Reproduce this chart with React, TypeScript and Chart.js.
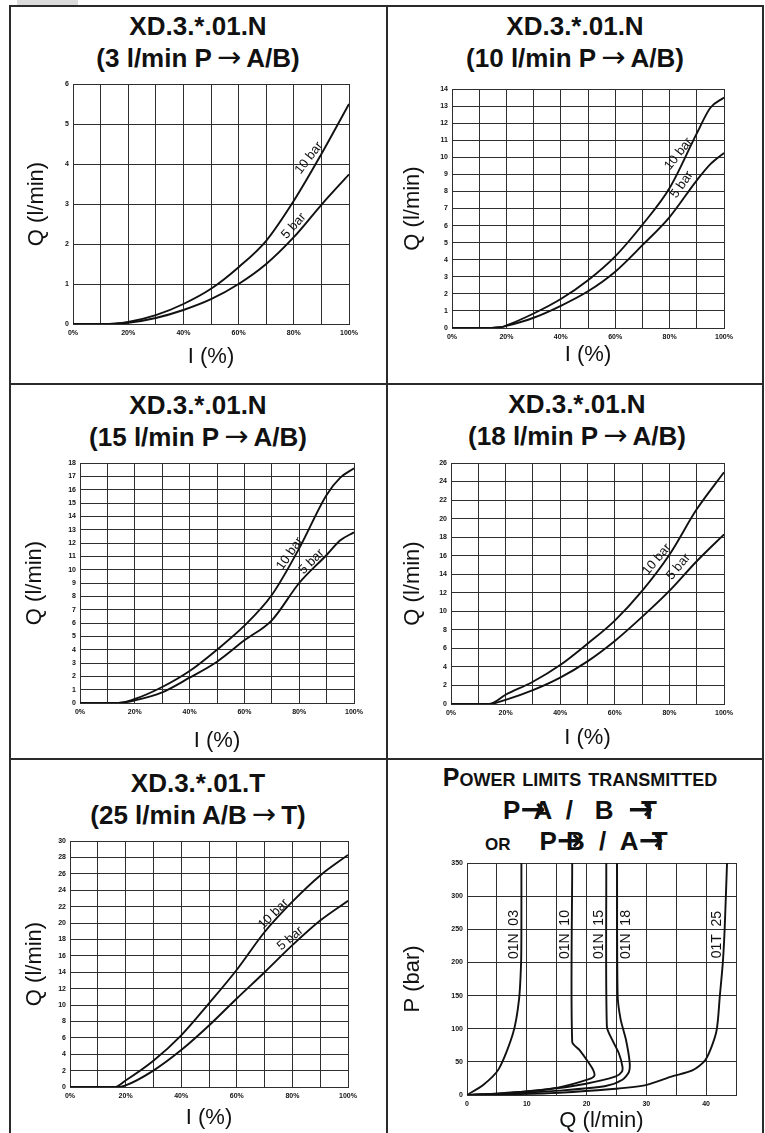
import React, { useEffect, useRef } from "react";
import { Chart, registerables } from "chart.js";
Chart.register(...registerables);

const FONT = "'Liberation Sans', Arial, Helvetica, sans-serif";
const ARROW_FONT = "'DejaVu Sans', sans-serif";

// ---------- Panel 1: XD.3.*.01.N (3 l/min P -> A/B) ----------
const I_03 = [0, 10, 15, 20, 30, 40, 50, 60, 70, 80, 90, 100];
const Q_03_10bar = [0, 0, 0.01, 0.05, 0.22, 0.5, 0.88, 1.42, 2.08, 3.08, 4.25, 5.5];
const Q_03_5bar = [0, 0, 0.01, 0.03, 0.15, 0.35, 0.62, 1.0, 1.5, 2.17, 2.98, 3.74];

// ---------- Panel 2: 10 l/min ----------
const I_10 = [0, 10, 18, 20, 30, 40, 50, 60, 70, 80, 90, 95, 100];
const Q_10_10bar = [0, 0, 0.05, 0.15, 0.85, 1.7, 2.8, 4.2, 6.05, 8.2, 11.4, 12.9, 13.5];
const Q_10_5bar = [0, 0, 0.05, 0.12, 0.6, 1.3, 2.15, 3.3, 4.85, 6.5, 8.65, 9.6, 10.25];

// ---------- Panel 3: 15 l/min ----------
const I_15 = [0, 10, 14, 20, 30, 40, 50, 60, 70, 80, 90, 95, 100];
const Q_15_10bar = [0, 0, 0, 0.3, 1.2, 2.4, 4.0, 5.8, 8.1, 11.6, 15.6, 16.9, 17.6];
const Q_15_5bar = [0, 0, 0, 0.2, 0.8, 1.9, 3.1, 4.7, 6.2, 9.0, 11.1, 12.2, 12.8];

// ---------- Panel 4: 18 l/min ----------
const I_18 = [0, 10, 14, 20, 30, 40, 50, 60, 70, 80, 90, 100];
const Q_18_10bar = [0, 0, 0, 1.0, 2.4, 4.2, 6.5, 9.0, 12.2, 16.1, 21.0, 25.0];
const Q_18_5bar = [0, 0, 0, 0.45, 1.5, 2.85, 4.6, 6.8, 9.4, 12.2, 15.4, 18.3];

// ---------- Panel 5: XD.3.*.01.T 25 l/min A/B -> T ----------
const I_25_10bar = [0, 10, 16, 20, 30, 40, 50, 60, 70, 80, 90, 100];
const Q_25_10bar = [0, 0, 0, 0.8, 3.2, 6.3, 10.2, 14.3, 18.9, 22.6, 25.8, 28.3];
const I_25_5bar = [0, 10, 17, 20, 30, 40, 50, 60, 70, 80, 90, 100];
const Q_25_5bar = [0, 0, 0, 0.2, 2.0, 4.5, 7.5, 10.8, 14.0, 17.3, 20.3, 22.7];

// ---------- Panel 6: power limits (Q l/min vs P bar) ----------
const Q_01N03 = [0, 2.7, 5.3, 7.7, 8.7, 9.05, 9.1, 9.1];
const P_01N03 = [0, 15, 39, 93, 144, 200, 250, 350];
const Q_01N10 = [0, 4.3, 9.9, 15.4, 20.4, 21.3, 21.1, 20.1, 18.8, 17.6, 17.6];
const P_01N10 = [0, 1.5, 5.5, 11.6, 24, 29, 38, 52, 68, 80, 350];
const Q_01N15 = [0, 5.4, 12.7, 19.9, 24.9, 25.9, 26.0, 25.4, 24.3, 23.4, 23.3];
const P_01N15 = [0, 2.5, 7.6, 17, 28, 35, 43, 63, 83, 103, 350];
const Q_01N18 = [0, 7.1, 15.4, 23.2, 26.0, 27.1, 27.2, 26.6, 25.7, 25.2, 25.1];
const P_01N18 = [0, 2, 6.6, 13.6, 23, 35, 50, 83, 114, 150, 350];
const Q_01T25 = [0, 7.1, 15.4, 23.8, 29.9, 34.3, 37.7, 39.9, 41.7, 42.3, 42.8, 43.1, 43.5];
const P_01T25 = [0, 1, 3.5, 8.6, 15, 28, 37, 53, 95, 150, 200, 250, 350];

type Series = { xs: number[]; ys: number[] };
type CurveLabel = { text: string; x: number; y: number; angle: number; size: number };
type PanelProps = {
  cell: number[];
  plot: number[];
  yTitleX: number;
  xTitleY: number;
  series: Series[];
  xMax: number;
  xStep: number;
  xLabelEvery: number;
  xSuffix: string;
  yMax: number;
  yStep: number;
  xTitle: string;
  yTitle: string;
  labels: CurveLabel[];
  monotone: boolean;
};

function Panel(p: PanelProps) {
  const ref = useRef<HTMLCanvasElement>(null);
  const [cx, cy, cw, ch] = p.cell;
  useEffect(() => {
    const [pl, pt, pr, pb] = p.plot;
    const half = 11;
    const padLeft = p.yTitleX - cx - half;
    const wy = pl - cx - padLeft;
    const scaleBottom = p.xTitleY - cy + half;
    const padBottom = ch - scaleBottom;
    const hx = scaleBottom - (pb - cy);
    const padTop = pt - cy;
    const padRight = cx + cw - pr;

    const labelPlugin = {
      id: "curveLabels",
      afterDatasetsDraw(chart: any) {
        const ctx = chart.ctx;
        const xs = chart.scales.x;
        const ys = chart.scales.y;
        for (const l of p.labels) {
          ctx.save();
          ctx.translate(xs.getPixelForValue(l.x), ys.getPixelForValue(l.y));
          ctx.rotate((l.angle * Math.PI) / 180);
          ctx.font = `${l.size}px ${FONT}`;
          ctx.fillStyle = "#111";
          ctx.textAlign = "center";
          ctx.textBaseline = "middle";
          ctx.fillText(l.text, 0, 0);
          ctx.restore();
        }
      },
    };

    const gridColor = "#2e2e2e";
    const tickFont = { family: FONT, size: 7, weight: "bold" as const };
    const titleFont = { family: FONT, size: 22, lineHeight: 1 };

    const chart = new Chart(ref.current as HTMLCanvasElement, {
      type: "scatter",
      data: {
        datasets: p.series.map((s) => ({
          data: s.xs.map((x, i) => ({ x, y: s.ys[i] })),
          showLine: true,
          borderColor: "#111",
          borderWidth: 1.9,
          pointRadius: 0,
          tension: p.monotone ? 0 : 0.25,
          cubicInterpolationMode: p.monotone ? "monotone" : "default",
          fill: false,
        })),
      },
      options: {
        animation: false,
        responsive: false,
        maintainAspectRatio: false,
        layout: { padding: { left: padLeft, right: padRight, top: padTop, bottom: padBottom } },
        plugins: { legend: { display: false }, tooltip: { enabled: false }, title: { display: false } },
        scales: {
          x: {
            type: "linear",
            min: 0,
            max: p.xMax,
            afterFit: (s: any) => {
              s.height = hx;
            },
            ticks: {
              stepSize: p.xStep,
              autoSkip: false,
              maxRotation: 0,
              padding: 5,
              color: "#111",
              font: tickFont,
              callback: (v: any) =>
                Math.round(Number(v)) % p.xLabelEvery === 0 ? `${v}${p.xSuffix}` : "",
            },
            grid: { color: gridColor, lineWidth: 1, drawTicks: false },
            border: { color: gridColor, width: 1 },
            title: { display: true, text: p.xTitle, font: titleFont, padding: 0, color: "#111" },
          },
          y: {
            type: "linear",
            min: 0,
            max: p.yMax,
            afterFit: (s: any) => {
              s.width = wy;
            },
            ticks: {
              stepSize: p.yStep,
              autoSkip: false,
              padding: 4,
              color: "#111",
              font: tickFont,
            },
            grid: { color: gridColor, lineWidth: 1, drawTicks: false },
            border: { color: gridColor, width: 1 },
            title: { display: true, text: p.yTitle, font: titleFont, padding: 0, color: "#111" },
          },
        },
      } as any,
      plugins: [labelPlugin],
    });
    return () => chart.destroy();
  }, []);
  return (
    <canvas
      ref={ref}
      width={cw}
      height={ch}
      style={{ position: "absolute", left: cx, top: cy, width: cw, height: ch }}
    />
  );
}

const thinArrow = (
  <span style={{ fontFamily: ARROW_FONT, fontWeight: "normal", fontSize: 29, margin: "0 5px" }}>
    {"\u2192"}
  </span>
);

const boldArrow = (overlap: number) => (
  <span
    style={{
      fontFamily: ARROW_FONT,
      fontWeight: "bold",
      fontSize: 30,
      marginRight: -overlap,
      position: "relative",
      zIndex: 1,
    }}
  >
    {"\u2192"}
  </span>
);

const title2 = (center: number, top: number, l1: string, l2a: string, l2b: string) => (
  <div
    style={{
      position: "absolute",
      left: center - 190,
      width: 380,
      top,
      textAlign: "center",
      font: `bold 26px/31px ${FONT}`,
      color: "#111",
      whiteSpace: "pre",
    }}
  >
    {l1}
    <br />
    {l2a}
    {thinArrow}
    {l2b}
  </div>
);

const line = (left: number, top: number, width: number, height: number, bg = "#2a2a2a") => (
  <div style={{ position: "absolute", left, top, width, height, background: bg }} />
);

const COL0 = 11, COL0W = 375, COL1 = 388, COL1W = 374;
const ROW0 = 7, ROW0H = 376, ROW1 = 385, ROW1H = 373, ROW2 = 760, ROW2H = 373;

export default function App() {
  const xTitleI = "I (%)";
  const yTitleQ = "Q (l/min)";
  return (
    <div
      style={{
        position: "absolute",
        left: 0,
        top: 0,
        width: 765,
        height: 1133,
        background: "#fff",
        overflow: "hidden",
        fontFamily: FONT,
      }}
    >
      {line(17, 0, 61, 5, "#dcdcdc")}
      {line(9, 5, 755, 2)}
      {line(9, 5, 2, 1128)}
      {line(386, 5, 2, 1128)}
      {line(762, 5, 2, 1128)}
      {line(9, 383, 755, 2)}
      {line(9, 758, 755, 2)}

      {title2(198, 11, "XD.3.*.01.N", "(3 l/min P", "A/B)")}
      {title2(575, 11, "XD.3.*.01.N", "(10 l/min P", "A/B)")}
      {title2(198, 390, "XD.3.*.01.N", "(15 l/min P", "A/B)")}
      {title2(577, 389, "XD.3.*.01.N", "(18 l/min P", "A/B)")}
      {title2(198, 768, "XD.3.*.01.T", "(25 l/min A/B", "T)")}

      <div
        style={{
          position: "absolute",
          left: 380,
          width: 400,
          top: 762,
          textAlign: "center",
          font: `bold 25px/30px ${FONT}`,
          fontVariant: "small-caps",
          color: "#111",
        }}
      >
        Power limits transmitted
      </div>
      <div
        style={{
          position: "absolute",
          left: 503,
          top: 794,
          font: `bold 26px/30px ${FONT}`,
          color: "#111",
          whiteSpace: "pre",
        }}
      >
        {"P"}
        {boldArrow(12)}
        {"A  /   B  "}
        {boldArrow(12)}
        {"T"}
      </div>
      <div
        style={{
          position: "absolute",
          left: 485,
          top: 825,
          font: `bold 26px/30px ${FONT}`,
          color: "#111",
          whiteSpace: "pre",
        }}
      >
        <span style={{ fontVariant: "small-caps", fontSize: 24 }}>or</span>
        {"    P"}
        {boldArrow(16)}
        {"B  /  A"}
        {boldArrow(12)}
        {"T"}
      </div>

      <Panel
        cell={[COL0, ROW0, COL0W, ROW0H]}
        plot={[73, 84, 349, 324]}
        yTitleX={37}
        xTitleY={357}
        series={[
          { xs: I_03, ys: Q_03_10bar },
          { xs: I_03, ys: Q_03_5bar },
        ]}
        xMax={100}
        xStep={10}
        xLabelEvery={20}
        xSuffix="%"
        yMax={6}
        yStep={1}
        xTitle={xTitleI}
        yTitle={yTitleQ}
        labels={[
          { text: "10 bar", x: 85.5, y: 4.15, angle: -52, size: 13 },
          { text: "5 bar", x: 80, y: 2.45, angle: -48, size: 13 },
        ]}
        monotone={true}
      />
      <Panel
        cell={[COL1, ROW0, COL1W, ROW0H]}
        plot={[452, 89, 724, 328]}
        yTitleX={413}
        xTitleY={355}
        series={[
          { xs: I_10, ys: Q_10_10bar },
          { xs: I_10, ys: Q_10_5bar },
        ]}
        xMax={100}
        xStep={10}
        xLabelEvery={20}
        xSuffix="%"
        yMax={14}
        yStep={1}
        xTitle={xTitleI}
        yTitle={yTitleQ}
        labels={[
          { text: "10 bar", x: 83.3, y: 10.2, angle: -52, size: 13 },
          { text: "5 bar", x: 84.5, y: 8.4, angle: -55, size: 13 },
        ]}
        monotone={true}
      />
      <Panel
        cell={[COL0, ROW1, COL0W, ROW1H]}
        plot={[80, 463, 354, 703]}
        yTitleX={35}
        xTitleY={741}
        series={[
          { xs: I_15, ys: Q_15_10bar },
          { xs: I_15, ys: Q_15_5bar },
        ]}
        xMax={100}
        xStep={10}
        xLabelEvery={20}
        xSuffix="%"
        yMax={18}
        yStep={1}
        xTitle={xTitleI}
        yTitle={yTitleQ}
        labels={[
          { text: "10 bar", x: 76.6, y: 11.2, angle: -55, size: 13 },
          { text: "5 bar", x: 84.5, y: 10.6, angle: -45, size: 13 },
        ]}
        monotone={true}
      />
      <Panel
        cell={[COL1, ROW1, COL1W, ROW1H]}
        plot={[451, 463, 724, 704]}
        yTitleX={413}
        xTitleY={738}
        series={[
          { xs: I_18, ys: Q_18_10bar },
          { xs: I_18, ys: Q_18_5bar },
        ]}
        xMax={100}
        xStep={10}
        xLabelEvery={20}
        xSuffix="%"
        yMax={26}
        yStep={2}
        xTitle={xTitleI}
        yTitle={yTitleQ}
        labels={[
          { text: "10 bar", x: 75.4, y: 15.6, angle: -50, size: 13 },
          { text: "5 bar", x: 83.3, y: 14.8, angle: -50, size: 13 },
        ]}
        monotone={true}
      />
      <Panel
        cell={[COL0, ROW2, COL0W, ROW2H]}
        plot={[70, 841, 348, 1087]}
        yTitleX={35}
        xTitleY={1118}
        series={[
          { xs: I_25_10bar, ys: Q_25_10bar },
          { xs: I_25_5bar, ys: Q_25_5bar },
        ]}
        xMax={100}
        xStep={10}
        xLabelEvery={20}
        xSuffix="%"
        yMax={30}
        yStep={2}
        xTitle={xTitleI}
        yTitle={yTitleQ}
        labels={[
          { text: "10 bar", x: 73.2, y: 21.1, angle: -45, size: 13 },
          { text: "5 bar", x: 79.2, y: 18.1, angle: -40, size: 13 },
        ]}
        monotone={true}
      />
      <Panel
        cell={[COL1, ROW2, COL1W, ROW2H]}
        plot={[467, 863, 736, 1095]}
        yTitleX={413}
        xTitleY={1121}
        series={[
          { xs: Q_01N03, ys: P_01N03 },
          { xs: Q_01N10, ys: P_01N10 },
          { xs: Q_01N15, ys: P_01N15 },
          { xs: Q_01N18, ys: P_01N18 },
          { xs: Q_01T25, ys: P_01T25 },
        ]}
        xMax={45}
        xStep={5}
        xLabelEvery={10}
        xSuffix=""
        yMax={350}
        yStep={50}
        xTitle="Q (l/min)"
        yTitle="P (bar)"
        labels={[
          { text: "01N  03", x: 7.95, y: 242, angle: -90, size: 14 },
          { text: "01N  10", x: 16.4, y: 242, angle: -90, size: 14 },
          { text: "01N  15", x: 22.1, y: 242, angle: -90, size: 14 },
          { text: "01N  18", x: 26.6, y: 242, angle: -90, size: 14 },
          { text: "01T  25", x: 41.8, y: 242, angle: -90, size: 14 },
        ]}
        monotone={false}
      />
    </div>
  );
}
